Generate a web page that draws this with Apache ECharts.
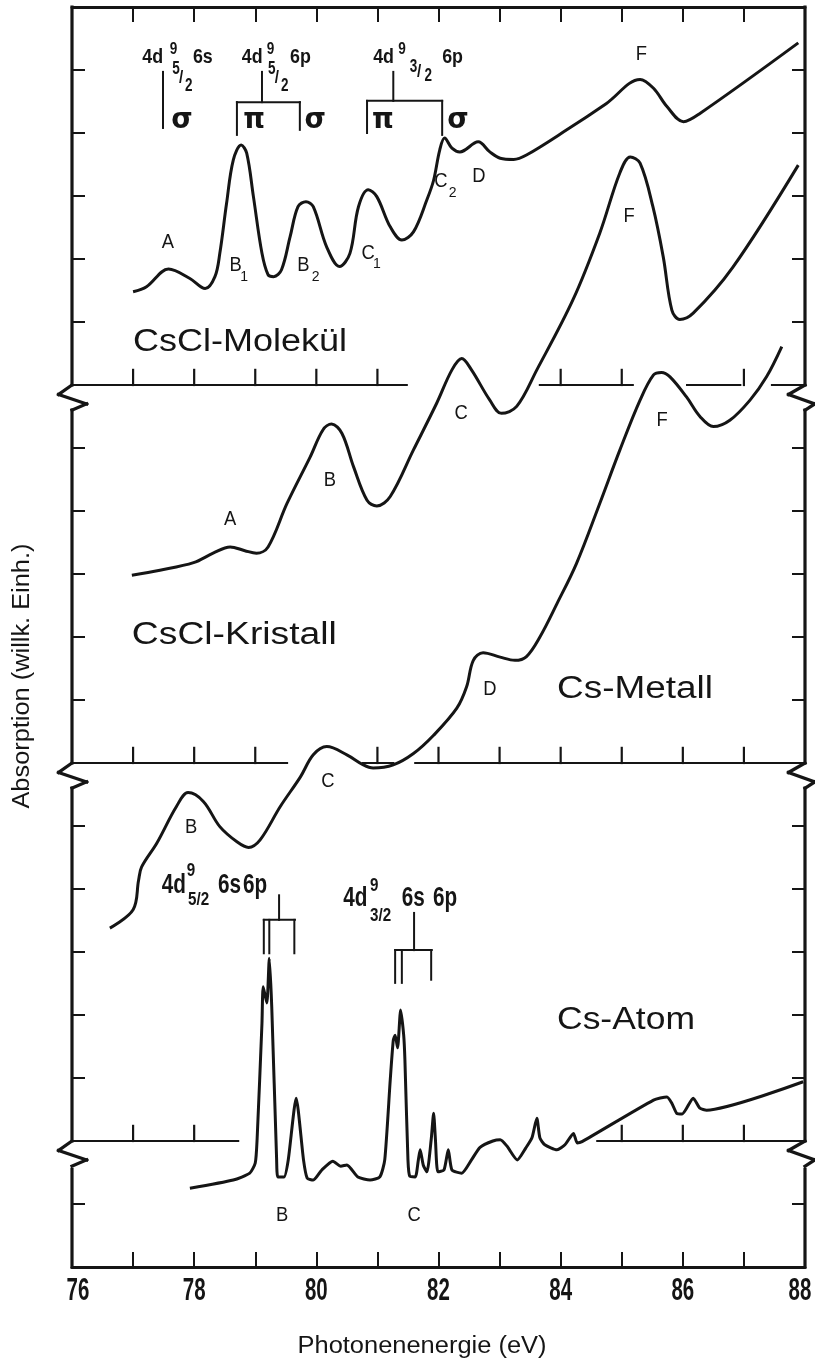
<!DOCTYPE html>
<html>
<head>
<meta charset="utf-8">
<script src="https://cdn.jsdelivr.net/npm/echarts@6/dist/echarts.min.js"></script>
<style>
  html, body { margin: 0; padding: 0; background: #fff; }
  #chart { width: 815px; height: 1362px; }
</style>
</head>
<body>
<div id="chart"></div>
<script>
// ---------- spectra: photon energy (eV) and absorption (arb. units, stacked) ----------
const molekuelE = [77.00,77.22,77.58,77.93,78.18,78.34,78.42,78.53,78.64,78.77,78.86,78.97,79.11,79.21,79.30,79.43,79.57,79.70,79.83,79.95,80.17,80.38,80.55,80.69,80.85,80.99,81.21,81.40,81.59,81.81,81.92,82.02,82.10,82.22,82.35,82.65,82.84,83.01,83.23,83.44,84.10,84.75,85.30,85.52,85.74,86.01,86.28,87.89];
const molekuelA = [15.48,15.56,15.84,15.69,15.53,15.72,16.09,16.88,17.57,17.81,17.68,16.99,16.09,15.75,15.72,15.83,16.35,16.83,16.91,16.83,16.19,15.88,16.09,16.83,17.10,16.99,16.51,16.30,16.43,16.94,17.25,17.73,17.92,17.76,17.70,17.86,17.70,17.60,17.58,17.65,18.05,18.47,18.85,18.71,18.42,18.18,18.31,19.43];

const kristallE = [76.98,77.44,77.99,78.31,78.59,78.83,79.02,79.21,79.52,79.90,80.11,80.25,80.42,80.61,80.83,80.99,81.21,81.59,81.97,82.22,82.38,82.54,82.84,83.03,83.28,83.61,84.20,84.64,84.97,85.14,85.30,85.51,85.68,85.82,85.95,86.17,86.82,87.89];
const kristallA = [10.98,11.06,11.18,11.33,11.43,11.37,11.33,11.43,12.12,12.86,13.29,13.38,13.23,12.70,12.17,12.08,12.23,12.97,13.71,14.24,14.42,14.24,13.76,13.55,13.66,14.24,15.35,16.41,17.37,17.62,17.52,16.83,16.03,15.19,15.04,15.14,15.87,17.49];

const metallE = [76.62,77.00,77.09,77.14,77.39,77.71,77.90,78.15,78.42,78.70,78.89,79.08,79.41,79.74,79.95,80.17,80.50,80.77,80.93,81.26,81.59,81.92,82.30,82.46,82.57,82.73,83.01,83.25,83.44,83.66,83.94,84.26,84.64,84.97,85.30,85.52,85.65,85.79,86.06,86.28,86.50,86.77,87.10,87.37,87.62];
const metallA = [5.38,5.67,6.14,6.35,6.73,7.31,7.53,7.39,6.99,6.75,6.66,6.78,7.31,7.78,8.13,8.26,8.13,7.97,7.92,7.97,8.15,8.44,8.87,9.21,9.63,9.75,9.68,9.63,9.69,10.00,10.53,11.17,12.12,12.97,13.76,14.16,14.20,14.13,13.81,13.50,13.34,13.44,13.76,14.13,14.61];

const atomE = [77.93,78.64,78.91,79.00,79.03,79.11,79.13,79.19,79.23,79.27,79.35,79.37,79.47,79.54,79.67,79.79,79.85,79.95,80.09,80.27,80.40,80.50,80.68,80.88,81.04,81.12,81.21,81.26,81.29,81.33,81.38,81.43,81.45,81.50,81.53,81.62,81.67,81.70,81.75,81.81,81.88,81.92,81.95,81.99,82.09,82.16,82.22,82.38,82.54,82.68,82.89,83.01,83.12,83.29,83.43,83.53,83.61,83.66,83.74,83.94,84.07,84.21,84.27,84.35,85.52,85.74,85.82,85.90,85.99,86.17,86.28,86.39,87.97];
const atomA = [1.25,1.38,1.49,1.65,2.02,3.87,4.45,4.19,4.90,4.13,1.70,1.43,1.43,1.70,2.68,1.70,1.41,1.38,1.54,1.68,1.60,1.62,1.43,1.38,1.43,1.70,2.97,3.60,3.68,3.48,4.08,3.68,3.29,1.70,1.44,1.43,1.70,1.86,1.62,1.51,2.02,2.44,2.02,1.51,1.54,1.86,1.54,1.49,1.70,1.90,2.00,2.02,1.92,1.70,1.89,2.05,2.36,2.05,1.94,1.86,1.94,2.12,1.97,1.99,2.65,2.70,2.60,2.44,2.43,2.68,2.52,2.49,2.94];

// ---------- axis ticks ----------
const xTickValues = [76, 78, 80, 82, 84, 86, 88];
const xTickLabels = ['76', '78', '80', '82', '84', '86', '88'];

// ---------- broken baselines between the stacked spectra ----------
const breakLevels = [14, 8, 2];
const breakPieces = [
  [[76, 81.48], [83.66, 85.18], [86.07, 86.94], [87.46, 88]],
  [[76, 79.52], [80.76, 81.26], [81.62, 88]],
  [[76, 78.72], [84.60, 88]]
];
const breakTicks = [
  [77, 78, 79, 80, 81, 84, 85, 87],
  [77, 78, 79, 81, 82, 83, 84, 85, 86, 87],
  [77, 78, 85, 86, 87]
];

const INK = '#151515';
const SANS = "'Liberation Sans', Arial, sans-serif";
const GREEK = "'DejaVu Sans', sans-serif";

const zip = (xs, ys) => xs.map((x, i) => [x, ys[i]]);

// frame pieces: left/right border interrupted by zigzag break marks
function frameSegments() {
  const s = [];
  const sides = [
    { x: 76, out: -0.22, inn: 0.24 },
    { x: 88, out: -0.27, inn: 0.16 }
  ];
  const spans = [[20, 14], [13.6, 8], [7.6, 2], [1.55, 0]];
  for (const side of sides) {
    for (const [a, b] of spans) s.push([side.x, a, side.x, b]);
    for (const lv of breakLevels) {
      const p0 = [side.x, lv], p1 = [side.x + side.out, lv - 0.15],
            p2 = [side.x + side.inn, lv - 0.30], p3 = [side.x, lv - 0.40];
      s.push([...p0, ...p1], [...p1, ...p2], [...p2, ...p3]);
    }
  }
  return s;
}

function breakSegments() {
  const s = [];
  breakLevels.forEach((lv, i) => {
    breakPieces[i].forEach(([a, b]) => s.push([a, lv, b, lv]));
    breakTicks[i].forEach(t => s.push([t, lv, t, lv + 0.24]));
  });
  return s;
}

// energy-level brackets
const bracketSegments = [
  [77.49, 18.97, 77.49, 18.08],
  [79.11, 18.97, 79.11, 18.49], [78.70, 18.49, 79.73, 18.49], [78.70, 18.49, 78.70, 17.97], [79.73, 18.49, 79.73, 18.05],
  [81.26, 18.97, 81.26, 18.51], [80.83, 18.51, 82.06, 18.51], [80.83, 18.51, 80.83, 18.00], [82.06, 18.51, 82.06, 17.97],
  [79.39, 5.90, 79.39, 5.51], [79.14, 5.51, 79.65, 5.51], [79.14, 5.51, 79.14, 4.98], [79.23, 5.51, 79.23, 4.98], [79.64, 5.51, 79.64, 4.98],
  [81.60, 5.62, 81.60, 5.03], [81.29, 5.03, 81.89, 5.03], [81.29, 5.03, 81.29, 4.51], [81.40, 5.03, 81.40, 4.51], [81.88, 5.03, 81.88, 4.56]
];

function segmentSeries(name, data, width) {
  return {
    type: 'custom', name, coordinateSystem: 'cartesian2d', silent: true, clip: false, z: 3,
    data,
    renderItem(params, api) {
      const a = api.coord([api.value(0), api.value(1)]);
      const b = api.coord([api.value(2), api.value(3)]);
      return { type: 'line', shape: { x1: a[0], y1: a[1], x2: b[0], y2: b[1] },
               style: { stroke: INK, lineWidth: width, lineCap: 'square' } };
    }
  };
}

function curve(name, xs, ys, smooth) {
  return { type: 'line', name, data: zip(xs, ys), smooth, symbol: 'none', clip: false, z: 5,
           lineStyle: { color: INK, width: 3, join: 'round' } };
}

const axisCommon = {
  type: 'value', min: 76, max: 88, interval: 1,
  axisLine: { show: true, onZero: false, lineStyle: { color: INK, width: 3 } },
  axisTick: { show: true, inside: true, length: 15, lineStyle: { color: INK, width: 2 } },
  axisLabel: { show: false }, splitLine: { show: false }
};
const yCommon = {
  type: 'value', min: 0, max: 20, interval: 1,
  axisLine: { show: false },
  axisTick: { show: true, inside: true, length: 13, lineStyle: { color: INK, width: 2 } },
  axisLabel: { show: false }, splitLine: { show: false }
};

const chart = echarts.init(document.getElementById('chart'), null, { renderer: 'canvas' });
chart.setOption({
  animation: false,
  backgroundColor: '#fff',
  grid: { left: 72, right: 10, top: 7, bottom: 95 },
  xAxis: [Object.assign({ position: 'bottom' }, axisCommon), Object.assign({ position: 'top' }, axisCommon)],
  yAxis: [Object.assign({ position: 'left' }, yCommon), Object.assign({ position: 'right' }, yCommon)],
  series: [
    segmentSeries('frame', frameSegments(), 3.2),
    segmentSeries('breaks', breakSegments(), 2.2),
    segmentSeries('levels', bracketSegments, 2),
    curve('CsCl-Molekül', molekuelE, molekuelA, 0.35),
    curve('CsCl-Kristall', kristallE, kristallA, 0.35),
    curve('Cs-Metall', metallE, metallA, 0.35),
    curve('Cs-Atom', atomE, atomA, 0.2)
  ]
});

// ---------- text annotations ----------
const mctx = document.createElement('canvas').getContext('2d');
function measure(str, font) { mctx.font = font; return mctx.measureText(str).width; }
const px = (x, y) => chart.convertToPixel({ gridIndex: 0 }, [x, y]);

function text(str, x, y, o) {
  const p = px(x, y);
  const font = (o.weight || 'normal') + ' ' + o.size + 'px ' + (o.family || SANS);
  let sx = o.sx || 1;
  if (o.width) sx = o.width / measure(str, font);
  const align = o.align || 'center';
  return {
    type: 'text', x: p[0] + (o.dx || 0), y: p[1] + (o.dy || 0), scaleX: sx, rotation: o.rot || 0,
    silent: true, z: 20,
    style: { text: str, font, fill: INK, align, verticalAlign: 'middle',
             textAlign: align, textVerticalAlign: 'middle' }
  };
}

const els = [];

// peak letters
const peakLetters = [
  ['A', 77.57, 16.27], ['B', 78.68, 15.90], ['B', 79.79, 15.90], ['C', 80.85, 16.09],
  ['C', 82.04, 17.23], ['D', 82.66, 17.31], ['F', 85.32, 19.24], ['F', 85.12, 16.67],
  ['A', 78.59, 11.87], ['B', 80.22, 12.48], ['C', 82.37, 13.54], ['F', 85.66, 13.43],
  ['D', 82.84, 9.17], ['B', 77.95, 6.97], ['C', 80.19, 7.70],
  ['B', 79.44, 0.81], ['C', 81.60, 0.81]
];
peakLetters.forEach(([t, x, y]) => els.push(text(t, x, y, { size: 20, sx: 0.92 })));
const peakIndices = [['1', 78.82, 15.71], ['2', 79.99, 15.71], ['1', 80.99, 15.92], ['2', 82.23, 17.04]];
peakIndices.forEach(([t, x, y]) => els.push(text(t, x, y, { size: 14 })));

// sample names
const sampleNames = [
  ['CsCl-Molekül', 77.00, 14.67, 214], ['CsCl-Kristall', 76.98, 10.02, 205],
  ['Cs-Metall', 83.94, 9.16, 156], ['Cs-Atom', 83.94, 3.92, 138]
];
sampleNames.forEach(([t, x, y, w]) => els.push(text(t, x, y, { size: 31, width: w, align: 'left' })));

// configuration labels 4d^9_j nl : [text, energy (left edge), absorption (centre), font size, x-scale]
const configParts = [
  // 4d9 5/2 6s
  ['4d', 77.15, 19.20, 21, 0.85], ['9', 77.60, 19.33, 16, 0.85],
  ['5', 77.64, 19.01, 18, 0.75], ['/', 77.75, 18.88, 19, 0.8], ['2', 77.85, 18.75, 18, 0.75],
  ['6s', 77.98, 19.20, 21, 0.85],
  // 4d9 5/2 6p
  ['4d', 78.78, 19.20, 21, 0.85], ['9', 79.19, 19.33, 16, 0.85],
  ['5', 79.21, 19.01, 18, 0.75], ['/', 79.32, 18.88, 19, 0.8], ['2', 79.42, 18.75, 18, 0.75],
  ['6p', 79.57, 19.20, 21, 0.85],
  // 4d9 3/2 6p
  ['4d', 80.93, 19.20, 21, 0.85], ['9', 81.34, 19.33, 16, 0.85],
  ['3', 81.53, 19.05, 18, 0.75], ['/', 81.65, 18.97, 19, 0.8], ['2', 81.77, 18.90, 18, 0.75],
  ['6p', 82.06, 19.20, 21, 0.85],
  // 4d9 5/2 6s 6p
  ['4d', 77.47, 6.06, 28, 0.74], ['9', 77.88, 6.29, 19, 0.8], ['5/2', 77.90, 5.83, 19, 0.8],
  ['6s', 78.39, 6.06, 28, 0.74], ['6p', 78.80, 6.06, 28, 0.74],
  // 4d9 3/2 6s 6p
  ['4d', 80.44, 5.86, 28, 0.74], ['9', 80.88, 6.05, 19, 0.8], ['3/2', 80.88, 5.57, 19, 0.8],
  ['6s', 81.40, 5.86, 28, 0.74], ['6p', 81.91, 5.86, 28, 0.74]
];
configParts.forEach(([t, x, y, s, k]) =>
  els.push(text(t, x, y, { size: s, weight: 'bold', sx: k, align: 'left' })));

// symmetry labels
const symmetry = [['σ', 77.80], ['π', 78.98], ['σ', 79.98], ['π', 81.09], ['σ', 82.32]];
symmetry.forEach(([t, x]) => els.push(text(t, x, 18.2, { size: 29, weight: 'bold', family: GREEK, sx: 0.95 })));

// x tick labels
xTickValues.forEach((v, i) => {
  let dx = 0;
  if (v === 76) dx = 6;
  if (v === 88) dx = -5;
  els.push(text(xTickLabels[i], v, 0, { size: 32, weight: 'bold', sx: 0.64, dy: 24, dx }));
});

// axis titles
els.push(text('Photonenenergie (eV)', 81.73, 0, { size: 23, width: 249, dy: 80 }));
els.push(text('Absorption (willk. Einh.)', 76, 9.38, { size: 23, width: 265, dx: -49, rot: Math.PI / 2 }));

chart.setOption({ graphic: { elements: els } });
</script>
</body>
</html>
